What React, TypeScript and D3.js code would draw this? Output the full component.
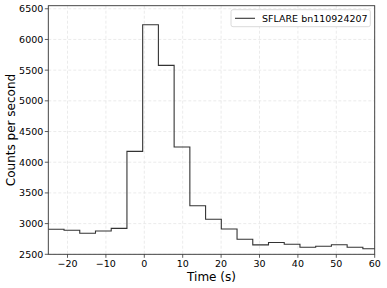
import React from "react";
import * as d3 from "d3";

const binStarts = [-25, -20.904, -16.808, -12.712, -8.616, -4.52, -0.424, 3.672, 7.768, 11.864, 15.96, 20.056, 24.152, 28.248, 32.344, 36.44, 40.536, 44.632, 48.728, 52.824, 56.92];
const binWidth = 4.096;
const counts = [2907, 2891, 2842, 2880, 2923, 4177, 6239, 5578, 4247, 3291, 3070, 2912, 2744, 2654, 2692, 2663, 2614, 2630, 2656, 2614, 2590];
const xTicks = [-20, -10, 0, 10, 20, 30, 40, 50, 60];
const yTicks = [2500, 3000, 3500, 4000, 4500, 5000, 5500, 6000, 6500];
const legendLabel = "SFLARE bn110924207";

const W = 387, H = 288;
const m = { left: 48.3, right: 374.7, top: 5.7, bottom: 254.3 };
const font = "DejaVu Sans, sans-serif";

export default function App() {
  const x = d3.scaleLinear().domain([-25, 60]).range([m.left, m.right]);
  const y = d3.scaleLinear().domain([2500, 6550]).range([m.bottom, m.top]);

  const pts: [number, number][] = [];
  binStarts.forEach((s, i) => {
    pts.push([s, counts[i]]);
    pts.push([s + binWidth, counts[i]]);
  });
  const line = d3.line<[number, number]>().x(d => x(d[0])).y(d => y(d[1]));

  return (
    <svg width={W} height={H} style={{ position: "absolute", left: 0, top: 0 }}>
      <defs>
        <clipPath id="clip">
          <rect x={m.left} y={m.top} width={m.right - m.left} height={m.bottom - m.top} />
        </clipPath>
      </defs>
      <rect x={0} y={0} width={W} height={H} fill="white" />
      {xTicks.map(t => (
        <line key={"gx" + t} x1={x(t)} x2={x(t)} y1={m.top} y2={m.bottom} stroke="#e6e6e6" strokeWidth={0.8} strokeDasharray="3,2" />
      ))}
      {yTicks.map(t => (
        <line key={"gy" + t} x1={m.left} x2={m.right} y1={y(t)} y2={y(t)} stroke="#e6e6e6" strokeWidth={0.8} strokeDasharray="3,2" />
      ))}
      <path d={line(pts) || ""} fill="none" stroke="#333" strokeWidth={1.1} clipPath="url(#clip)" />
      <rect x={m.left} y={m.top} width={m.right - m.left} height={m.bottom - m.top} fill="none" stroke="#333" strokeWidth={0.9} />
      {xTicks.map(t => (
        <g key={"tx" + t}>
          <line x1={x(t)} x2={x(t)} y1={m.bottom} y2={m.bottom + 3.5} stroke="#333" strokeWidth={0.8} />
          <text x={x(t)} y={m.bottom + 13} textAnchor="middle" fontFamily={font} fontSize={9.5} fill="#000">
            {t < 0 ? "\u2212" + Math.abs(t) : String(t)}
          </text>
        </g>
      ))}
      {yTicks.map(t => (
        <g key={"ty" + t}>
          <line x1={m.left - 3.5} x2={m.left} y1={y(t)} y2={y(t)} stroke="#333" strokeWidth={0.8} />
          <text x={m.left - 5} y={y(t) + 3.4} textAnchor="end" fontFamily={font} fontSize={9.5} fill="#000">{t}</text>
        </g>
      ))}
      <text x={(m.left + m.right) / 2} y={281} textAnchor="middle" fontFamily={font} fontSize={12} fill="#000">Time (s)</text>
      <text transform={`translate(15,${(m.top + m.bottom) / 2}) rotate(-90)`} textAnchor="middle" fontFamily={font} fontSize={12} fill="#000">Counts per second</text>
      <g>
        <rect x={231} y={9.7} width={139.3} height={17} rx={2} fill="white" stroke="#d0d0d0" strokeWidth={0.8} />
        <line x1={235} x2={255} y1={18.3} y2={18.3} stroke="#333" strokeWidth={1.1} />
        <text x={262} y={21.6} fontFamily={font} fontSize={9.5} fill="#000">{legendLabel}</text>
      </g>
    </svg>
  );
}
